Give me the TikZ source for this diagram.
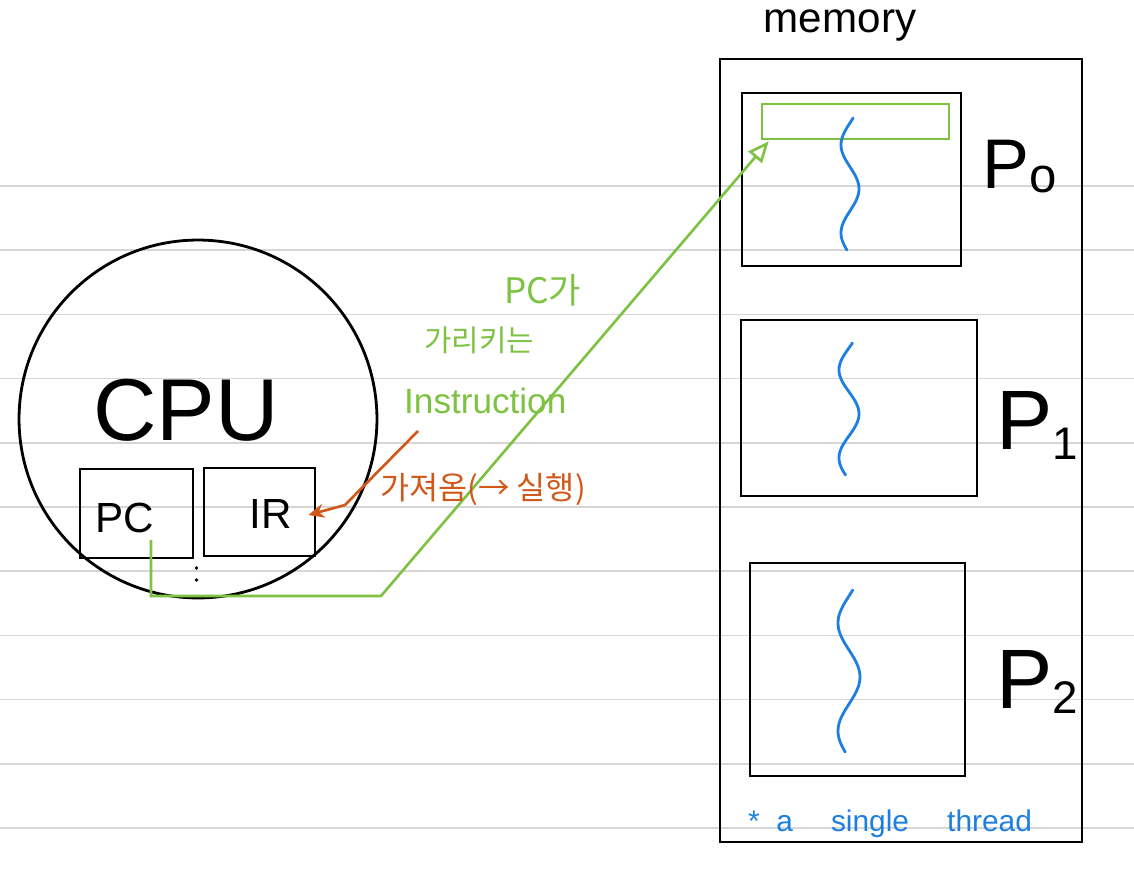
\documentclass[tikz,border=0pt]{standalone}
\usepackage{fontspec}
\setmainfont{Liberation Sans}
\newfontfamily\kr{Noto Sans CJK KR}
\usetikzlibrary{arrows.meta,calc}
\definecolor{ngreen}{HTML}{7DC242}
\definecolor{norange}{HTML}{D2581A}
\definecolor{nblue}{HTML}{1E7FE0}
\definecolor{rule}{HTML}{D6D6D6}
\tikzset{
  ink/.style={draw=black, line width=1.6pt},
  box/.style={ink, rectangle, inner sep=0pt},
  ruleline/.style={draw=rule, line width=0.9pt},
  wave/.style={draw=nblue, line width=1.6pt, line cap=round},
  greenline/.style={draw=ngreen, line width=1.5pt},
  orangeline/.style={draw=norange, line width=1.5pt},
  plabel/.style={anchor=south west, inner sep=0pt},
}
\newcommand{\psub}[3]{P{\fontsize{#2}{#2}\selectfont\raisebox{#3}{#1}}}
\begin{document}
\begin{tikzpicture}[x=0.02cm, y=-0.02cm]
\useasboundingbox (0,0) rectangle (1134,872);
\fill[white] (0,0) rectangle (1134,872);
% ruled lines
\foreach \k in {0,...,10}{
  \draw[ruleline] (0,{186+64.2*\k}) -- (1134,{186+64.2*\k});
}
% CPU
\node[ink, circle, minimum size=7.16cm, inner sep=0pt] (cpu) at (198,419) {};
\node[font=\fontsize{50}{50}\selectfont] (cpulabel) at (186,410) {CPU};
\node[box, minimum width=2.26cm, minimum height=1.78cm] (pc) at (136.5,513.5) {};
\node[box, minimum width=2.22cm, minimum height=1.76cm] (ir) at (259.5,512) {};
\node[font=\fontsize{24}{24}\selectfont] (pclabel) at (125,518) {PC};
\node[font=\fontsize{24}{24}\selectfont] (irlabel) at (271,514) {IR};
\fill (196.5,568) circle (1.8);
\fill (196.5,580) circle (1.8);
% memory
\node[font=\fontsize{24}{24}\selectfont] (memlabel) at (840,26) {memory};
\node[box, minimum width=7.24cm, minimum height=15.66cm] (mem) at (901,450.5) {};
\node[box, minimum width=4.38cm, minimum height=3.46cm] (p0) at (851.5,179.5) {};
\node[draw=ngreen, line width=1.5pt, rectangle, inner sep=0pt, minimum width=3.74cm, minimum height=0.7cm] (grect) at (855.5,121.5) {};
\node[box, minimum width=4.72cm, minimum height=3.52cm] (p1) at (859,408) {};
\node[box, minimum width=4.3cm, minimum height=4.26cm] (p2) at (857.5,669.5) {};
\node[plabel, font=\fontsize{40}{40}\selectfont] (p0label) at (982,193) {\psub{o}{28}{-2pt}};
\node[plabel, font=\fontsize{48}{48}\selectfont] (p1label) at (996,460) {\psub{1}{26}{-6pt}};
\node[plabel, font=\fontsize{48}{48}\selectfont] (p2label) at (996,714) {\psub{2}{26}{-3pt}};
% threads
\draw[wave] plot[domain=-20:520, samples=60, smooth] ({850-9*sin(\x)}, {118+0.24444*(\x+20)});
\draw[wave] plot[domain=-20:520, samples=60, smooth] ({849-10*sin(\x)}, {343+0.24444*(\x+20)});
\draw[wave] plot[domain=-20:520, samples=60, smooth] ({849-11*sin(\x)}, {590+0.3*(\x+20)});
\node[text=nblue, font=\fontsize{17}{17}\selectfont] (thread) at (890,824) {*\ \ a\quad\ single\quad\ thread};
% green annotation
\node[text=ngreen, anchor=west, font=\kr\fontsize{20}{20}\selectfont] (t1) at (498,290) {PC가};
\node[text=ngreen, anchor=west, font=\kr\fontsize{17}{17}\selectfont] (t2) at (418,340) {가리키는};
\node[text=ngreen, anchor=west, font=\fontsize{20}{20}\selectfont] (t3) at (398,401) {Instruction};
\coordinate (gstart) at (151,540);
\draw[greenline, -{Triangle[open, length=12pt, width=10pt]}] (gstart) -- (151,596) -- (381,596) -- ($(grect.south west)+(8,1)$);
% orange annotation
\node[text=norange, anchor=west, font=\kr\fontsize{18}{18}\selectfont] (t4) at (374,490) {가져옴(→ 실행)};
\coordinate (ostart) at (418,431);
\draw[orangeline, -{Stealth[length=9pt, width=8pt]}] (ostart) -- (345,505) -- ($(ir.east)+(-8,3)$);
\end{tikzpicture}
\end{document}
